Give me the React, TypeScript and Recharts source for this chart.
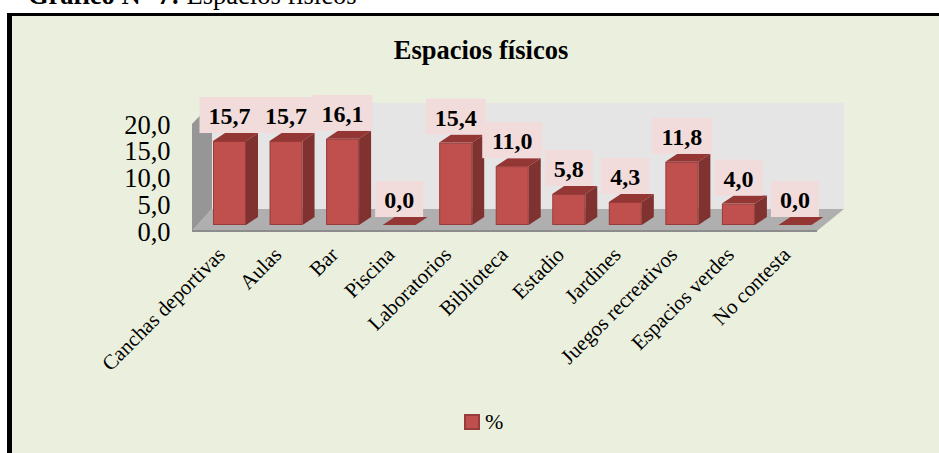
import { Bar, BarChart, LabelList, Legend, XAxis, YAxis, usePlotArea } from 'recharts';

const categories = [
  'Canchas deportivas',
  'Aulas',
  'Bar',
  'Piscina',
  'Laboratorios',
  'Biblioteca',
  'Estadio',
  'Jardines',
  'Juegos recreativos',
  'Espacios verdes',
  'No contesta',
];
const percentages = [15.7, 15.7, 16.1, 0, 15.4, 11, 5.8, 4.3, 11.8, 4, 0];
const yTicks = [0, 5, 10, 15, 20];

const data = categories.map((name, i) => ({ name, value: percentages[i] }));

const SERIF = '"Liberation Serif", "Times New Roman", serif';
const DEPTH_X = 12;
const DEPTH_Y = 8;

const fmt = (v: number) => v.toFixed(1).replace('.', ',');

/** Gray 3D box the bars stand in: side wall, back wall and floor. */
function Walls() {
  const plot = usePlotArea();
  if (!plot) return null;
  const left = plot.x - 9;
  const right = plot.x + plot.width;
  const base = plot.y + plot.height;
  const backX = left + 20;
  const backRight = right + 21;
  const frontRight = right - 6;
  const floorBack = base - 16;
  const floorFront = base + 6;
  const top = plot.y - 15;
  return (
    <g>
      <text x={481} y={59} textAnchor="middle" fontFamily={SERIF} fontWeight="bold" fontSize={26.5} fill="#000">
        Espacios físicos
      </text>
      <polygon points={`${backX},${top} ${backRight},${top} ${backRight},${floorBack} ${backX},${floorBack}`} fill="#e5e5e5" />
      <polygon points={`${left},${top + 21} ${backX},${top} ${backX},${floorBack} ${left},${floorFront}`} fill="#969696" />
      <polygon points={`${left},${floorFront} ${backX},${floorBack} ${backRight},${floorBack} ${frontRight},${floorFront}`} fill="#afafaf" />
      <rect x={left} y={floorFront - 1} width={frontRight - left} height={2} fill="#8c8c8c" />
    </g>
  );
}

function Bar3D(props: any) {
  const { x, y, width, height } = props;
  const right = x + width;
  const bottom = y + height;
  return (
    <g>
      <polygon
        points={`${x},${y} ${x + DEPTH_X},${y - DEPTH_Y} ${right + DEPTH_X},${y - DEPTH_Y} ${right},${y}`}
        fill="#943634"
      />
      {height > 0 && (
        <>
          <polygon
            points={`${right},${y} ${right + DEPTH_X},${y - DEPTH_Y} ${right + DEPTH_X},${bottom - DEPTH_Y} ${right},${bottom}`}
            fill="#7f3230"
          />
          <rect x={x + 0.5} y={y + 0.5} width={width - 1} height={height - 1} fill="#c0504d" stroke="#973c3a" strokeWidth={1} />
        </>
      )}
    </g>
  );
}

// pink box behind each value, sits just above the top face of the bar
function ValueLabel(props: any) {
  const { x, y, width, value } = props;
  const text = fmt(Number(value));
  const boxWidth = (text.length - 1) * 12 + 6 + 18;
  const cx = x + width / 2;
  const boxBottom = y - 8;
  return (
    <g>
      <rect x={cx - boxWidth / 2} y={boxBottom - 36} width={boxWidth} height={36} fill="#f2dcdb" />
      <text x={cx} y={boxBottom - 9} textAnchor="middle" fontFamily={SERIF} fontWeight="bold" fontSize={24} fill="#000">
        {text}
      </text>
    </g>
  );
}

function CategoryTick(props: any) {
  const { x, y, payload } = props;
  const endX = x - 3;
  const endY = y + 23;
  return (
    <text
      x={endX}
      y={endY}
      transform={`rotate(-45 ${endX} ${endY})`}
      textAnchor="end"
      fontFamily={SERIF}
      fontSize={21}
      fill="#000"
    >
      {payload.value}
    </text>
  );
}

function ValueTick(props: any) {
  const { y, payload } = props;
  return (
    <text x={170.5} y={y + 15.5} textAnchor="end" fontFamily={SERIF} fontSize={26.5} fill="#000">
      {fmt(payload.value)}
    </text>
  );
}

function LegendBox({ payload }: any) {
  return (
    <div style={{ display: 'flex', alignItems: 'center', height: 24, fontFamily: SERIF, fontSize: 22, color: '#000' }}>
      {(payload ?? []).map((item: any) => (
        <span key={item.value} style={{ display: 'flex', alignItems: 'center', gap: 5 }}>
          <span
            style={{
              width: 12,
              height: 12,
              background: '#c0504d',
              border: '2px solid #973c3a',
              display: 'inline-block',
            }}
          />
          {item.value}
        </span>
      ))}
    </div>
  );
}

export default function App() {
  return (
    <div style={{ position: 'absolute', left: 0, top: 0, width: 939, height: 453, overflow: 'hidden', background: '#fff' }}>
      <div
        style={{
          position: 'absolute',
          left: 28,
          top: -23,
          fontFamily: SERIF,
          fontSize: 26.5,
          lineHeight: '36px',
          whiteSpace: 'nowrap',
          color: '#000',
        }}
      >
        <b>Gráfico N° 7:</b> Espacios físicos
      </div>
      <div
        style={{
          position: 'absolute',
          left: 7,
          top: 13,
          width: 932,
          height: 440,
          boxSizing: 'border-box',
          background: '#ebf0de',
          borderTop: '3px solid #000',
          borderLeft: '5px solid #000',
        }}
      />
      <div style={{ position: 'absolute', left: 0, top: 0 }}>
        <BarChart
          width={939}
          height={453}
          data={data}
          margin={{ top: 118, right: 116, bottom: 0, left: 0 }}
          barCategoryGap={0}
        >
          <Walls />
          <XAxis dataKey="name" interval={0} axisLine={false} tickLine={false} height={204} tick={<CategoryTick />} />
          <YAxis width={201} domain={[0, 20]} ticks={yTicks} axisLine={false} tickLine={false} tick={<ValueTick />} />
          <Legend
            content={<LegendBox />}
            wrapperStyle={{ position: 'absolute', left: 464, top: 410, width: 60, height: 24 }}
          />
          <Bar dataKey="value" name="%" barSize={33} isAnimationActive={false} shape={<Bar3D />}>
            <LabelList dataKey="value" content={<ValueLabel />} />
          </Bar>
        </BarChart>
      </div>
    </div>
  );
}
